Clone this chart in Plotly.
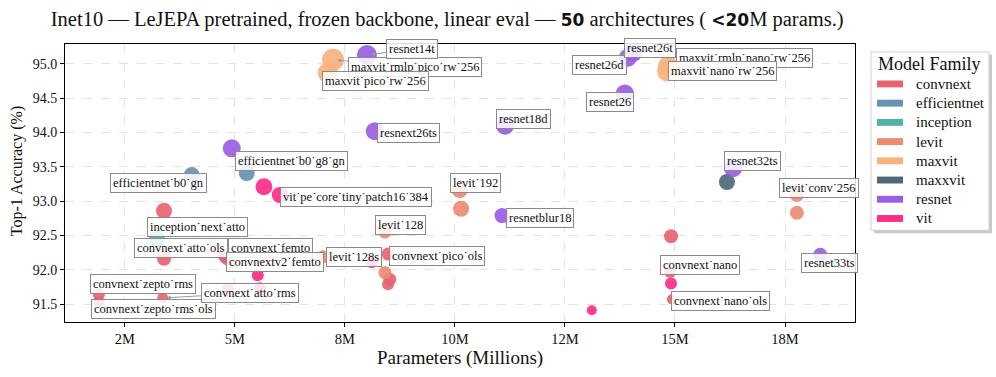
import plotly.graph_objects as go

SERIF = "Liberation Serif"

FAMILY_COLORS = {
    "convnext": "#E8636F",
    "efficientnet": "#6594B3",
    "inception": "#52B3A3",
    "levit": "#EC8B72",
    "maxvit": "#F7B27D",
    "maxxvit": "#4E6A75",
    "resnet": "#9B5DE5",
    "vit": "#FF2D87",
}

# one entry per architecture
models = [
    "maxvit_rmlp_pico_rw_256", "maxvit_pico_rw_256", "resnet14t", "resnext26ts", "resnet18d",
    "resnet18", "efficientnet_b0_g8_gn", "efficientnet_b0_gn", "vit_small_patch32", "vit_pe_core_tiny_patch16_384",
    "convnext_atto", "inception_next_atto", "convnext_atto_ols", "convnext_femto", "convnextv2_femto",
    "levit_128s", "vit_tiny_patch16_384", "vit_tiny_patch16_224", "vit_tiny_r_s16", "convnextv2_atto",
    "convnext_zepto_rms", "convnext_zepto_rms_ols", "convnext_atto_rms", "levit_128", "convnext_pico_ols",
    "levit_conv_128", "convnext_pico", "convnextv2_pico", "levit_192", "levit_conv_192",
    "resnetblur18", "vit_small_r26", "resnet26d", "resnet26t", "maxvit_rmlp_nano_rw_256",
    "maxvit_nano_rw_256", "resnet26", "resnet32ts", "maxxvit_rmlp_nano_rw_256", "levit_conv_256",
    "levit_256", "convnextv2_nano", "resnet33ts", "convnext_nano", "vit_small_patch16",
    "convnext_nano_ols",
]
families = [
    "maxvit", "maxvit", "resnet", "resnet", "resnet",
    "resnet", "efficientnet", "efficientnet", "vit", "vit",
    "convnext", "inception", "convnext", "convnext", "convnext",
    "levit", "vit", "vit", "vit", "convnext",
    "convnext", "convnext", "convnext", "levit", "convnext",
    "levit", "convnext", "convnext", "levit", "levit",
    "resnet", "vit", "resnet", "resnet", "maxvit",
    "maxvit", "resnet", "resnet", "maxxvit", "levit",
    "levit", "convnext", "resnet", "convnext", "vit",
    "convnext",
]
params_m = [
    7.23, 7.11, 8.00, 8.18, 11.14,
    4.93, 5.27, 4.02, 5.66, 6.02,
    3.39, 3.23, 3.39, 4.77, 4.82,
    7.00, 8.11, 5.52, 5.57, 4.84,
    1.91, 1.91, 3.36, 8.41, 8.48,
    8.41, 8.52, 8.48, 10.11, 10.14,
    11.07, 13.11, 13.93, 14.05, 14.84,
    14.82, 13.86, 16.32, 16.18, 17.77,
    17.77, 14.91, 18.30, 14.89, 14.91,
    14.93,
]
top1 = [
    95.06, 94.87, 95.13, 94.02, 94.10,
    93.77, 93.41, 93.38, 93.21, 93.09,
    92.86, 92.45, 92.16, 92.21, 92.17,
    92.19, 92.12, 91.92, 91.73, 91.71,
    91.64, 91.54, 91.59, 92.55, 92.23,
    91.96, 91.86, 91.79, 93.16, 92.89,
    92.79, 91.41, 95.09, 95.16, 94.97,
    94.89, 94.57, 93.48, 93.28, 93.09,
    92.83, 92.49, 92.22, 91.97, 91.80,
    91.57,
]
marker_px = [
    22, 20, 20, 18, 18,
    18, 16, 16, 17, 16,
    16, 16, 14, 14, 14,
    13, 13, 12, 12, 12,
    12, 11, 11, 13, 13,
    13, 13, 12, 16, 16,
    15, 10, 18, 18, 20,
    20, 18, 18, 16, 14,
    14, 14, 14, 12, 12,
    10,
]

# label placement: pixel offset of the label box centre from its point
label_offsets = {
    "maxvit_rmlp_pico_rw_256": (82, 7),
    "maxvit_pico_rw_256": (48, 8),
    "resnet14t": (45, -6),
    "resnext26ts": (34, 2),
    "resnet18d": (18, -7),
    "efficientnet_b0_g8_gn": (45, -12),
    "efficientnet_b0_gn": (-33, 8),
    "vit_pe_core_tiny_patch16_384": (76, 2),
    "inception_next_atto": (41, -12),
    "convnext_atto_ols": (17, -11),
    "convnext_femto": (46, -7),
    "convnextv2_femto": (48, 4),
    "levit_128s": (31, 0),
    "convnext_zepto_rms": (44, -11),
    "convnext_zepto_rms_ols": (55, 8),
    "convnext_atto_rms": (87, -5),
    "levit_128": (16, -7),
    "convnext_pico_ols": (49, 2),
    "levit_192": (16, -7),
    "resnetblur18": (38, 2),
    "resnet26d": (-28, 7),
    "resnet26t": (17, -5),
    "maxvit_rmlp_nano_rw_256": (77, -8),
    "maxvit_nano_rw_256": (55, 0),
    "resnet26": (-15, 9),
    "resnet32ts": (19, -7),
    "levit_conv_256": (22, -7),
    "resnet33ts": (9, 8),
    "convnext_nano": (30, -7),
    "convnext_nano_ols": (49, 2),
}
with_arrow = {"maxvit_rmlp_pico_rw_256", "resnet14t", "convnext_atto_rms"}

x_ticks = [2.5, 5, 7.5, 10, 12.5, 15, 17.5]
x_ticktext = ["2M", "5M", "8M", "10M", "12M", "15M", "18M"]

# plot area in pixels (margins below), used to place the hand-built legend
PLOT_L, PLOT_R, PLOT_T, PLOT_B = 65, 855, 44, 326


def px_x(px):
    return (px - PLOT_L) / (PLOT_R - PLOT_L)


def px_y(py):
    return (PLOT_B - py) / (PLOT_B - PLOT_T)


def tex_name(name: str) -> str:
    # underscores come out as dot accents in the original LaTeX rendering
    return name.replace("_", "\u02d9")


fig = go.Figure()

for fam, color in FAMILY_COLORS.items():
    idx = [i for i, f in enumerate(families) if f == fam]
    fig.add_trace(go.Scatter(
        x=[params_m[i] for i in idx],
        y=[top1[i] for i in idx],
        text=[models[i] for i in idx],
        name=fam,
        mode="markers",
        marker=dict(color=color, size=[marker_px[i] for i in idx], opacity=0.92, line=dict(width=0)),
        hovertemplate="%{text}<br>%{x:.2f}M<br>%{y:.2f}%<extra></extra>",
    ))

for i, name in enumerate(models):
    if name not in label_offsets:
        continue
    dx, dy = label_offsets[name]
    common = dict(
        x=params_m[i], y=top1[i], text=tex_name(name),
        font=dict(family=SERIF, size=12.5, color="#111"),
        bgcolor="rgba(255,255,255,0.85)", bordercolor="#8a8a8a", borderwidth=1, borderpad=2,
    )
    if name in with_arrow:
        fig.add_annotation(**common, showarrow=True, ax=dx, ay=dy, arrowhead=2, arrowsize=0.8,
                           arrowwidth=1, arrowcolor="#9a9a9a", standoff=4)
    else:
        fig.add_annotation(**common, showarrow=False, xshift=dx, yshift=-dy)

# y title as an annotation so it can sit where the reference puts it
fig.add_annotation(
    text="Top-1 Accuracy (%)", textangle=-90, showarrow=False,
    xref="paper", yref="paper", x=0, y=px_y(173), xanchor="center", yanchor="middle", xshift=-48,
    font=dict(family=SERIF, size=16, color="#111"),
)

# legend box (matplotlib style, with a drop shadow)
fig.add_shape(type="rect", xref="paper", yref="paper", layer="above",
              x0=px_x(874), x1=px_x(992), y0=px_y(236), y1=px_y(55),
              fillcolor="#c8c8c8", line=dict(width=0))
fig.add_shape(type="rect", xref="paper", yref="paper", layer="above",
              x0=px_x(871), x1=px_x(989), y0=px_y(233), y1=px_y(52),
              fillcolor="white", line=dict(color="#cfcfcf", width=1))
fig.add_annotation(text="Model Family", xref="paper", yref="paper", x=px_x(929), y=px_y(64),
                   xanchor="center", yanchor="middle", showarrow=False,
                   font=dict(family=SERIF, size=18, color="#111"))
for k, (fam, color) in enumerate(FAMILY_COLORS.items()):
    cy = 84.5 + k * 19.5
    fig.add_shape(type="rect", xref="paper", yref="paper", layer="above",
                  x0=px_x(877), x1=px_x(903), y0=px_y(cy + 3.5), y1=px_y(cy - 3.5),
                  fillcolor=color, line=dict(width=0))
    fig.add_annotation(text=fam, xref="paper", yref="paper", x=px_x(914), y=px_y(cy),
                       xanchor="left", yanchor="middle", showarrow=False,
                       font=dict(family=SERIF, size=15, color="#111"))

title_text = (
    "Inet10 — LeJEPA pretrained, frozen backbone, linear eval — "
    "<span style='font-family:DejaVu Sans;font-size:17px'><b>50</b></span> architectures ( "
    "<span style='font-family:DejaVu Sans;font-size:17px'><b>&lt;20</b></span>M params.)"
)

fig.update_layout(
    width=996,
    height=377,
    margin=dict(l=PLOT_L, r=996 - PLOT_R, t=PLOT_T, b=377 - PLOT_B),
    paper_bgcolor="white",
    plot_bgcolor="white",
    showlegend=False,
    font=dict(family=SERIF, size=14, color="#111"),
    title=dict(text=title_text, x=0.449, xanchor="center", xref="container",
               y=0.95, yanchor="middle", yref="container", font=dict(size=20.5)),
    xaxis=dict(
        title=dict(text="Parameters (Millions)", font=dict(size=19), standoff=4),
        range=[1.14, 19.09], tickvals=x_ticks, ticktext=x_ticktext,
        showline=True, linecolor="black", linewidth=1, mirror=True,
        ticks="outside", ticklen=4, tickcolor="black",
        showgrid=True, gridcolor="#e3e3e3", griddash="dash", zeroline=False,
        tickfont=dict(size=14.5),
    ),
    yaxis=dict(
        range=[91.24, 95.29], dtick=0.5, tickformat=".1f",
        showline=True, linecolor="black", linewidth=1, mirror=True,
        ticks="outside", ticklen=4, tickcolor="black",
        showgrid=True, gridcolor="#e3e3e3", griddash="dash", zeroline=False,
        tickfont=dict(size=14),
    ),
)

fig.write_html("out.html", config={"displayModeBar": False},
               post_script="document.body.style.margin='0';")
